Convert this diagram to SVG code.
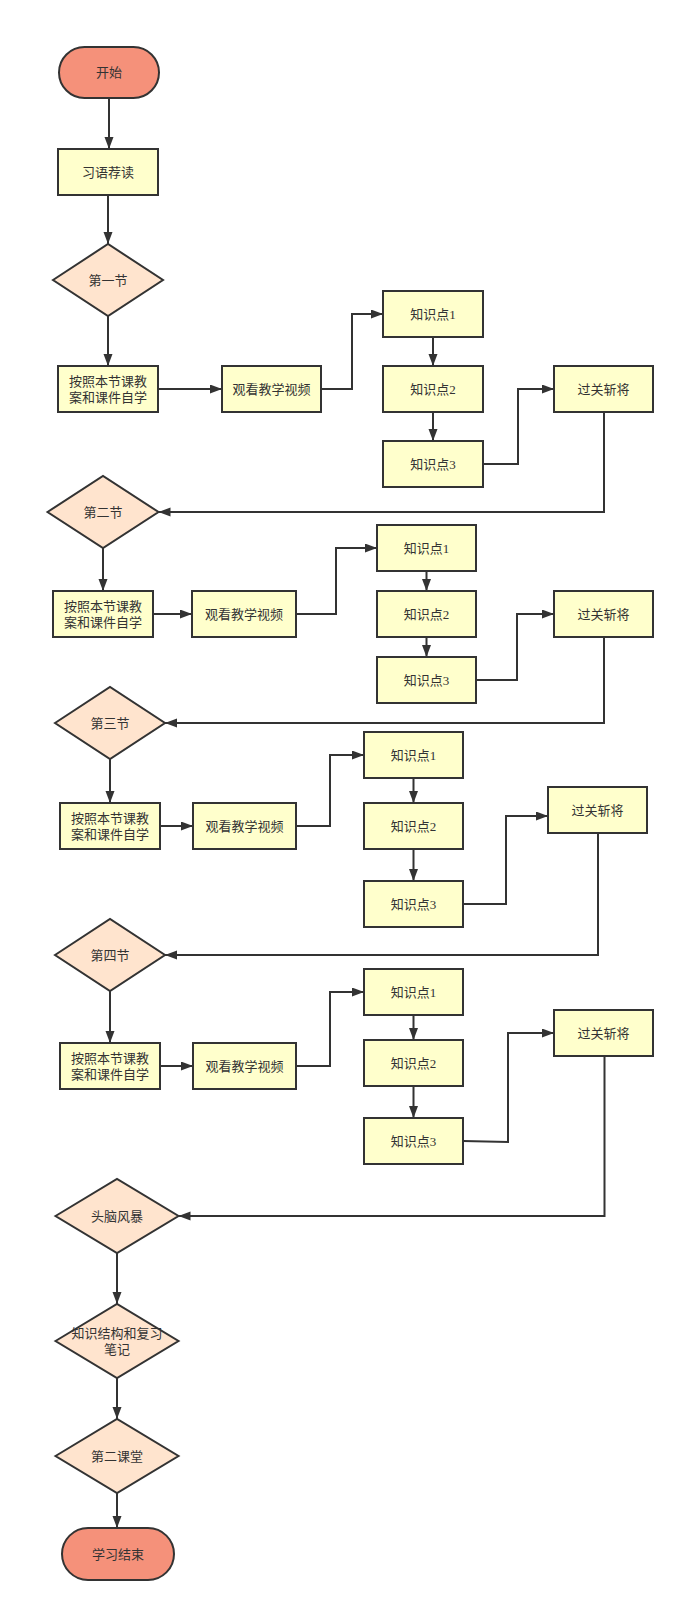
<svg xmlns="http://www.w3.org/2000/svg" width="685" height="1612" viewBox="0 0 685 1612">
<defs>
<style>
.term{fill:#F5917A;stroke:#333;stroke-width:2}
.box{fill:#FFFFCC;stroke:#333;stroke-width:2}
.dia{fill:#FFE4CE;stroke:#333;stroke-width:2}
.t{font-family:"Liberation Serif","Noto Sans CJK SC",sans-serif;font-size:13px;fill:#333;text-anchor:middle;dominant-baseline:central}
.c{fill:none;stroke:#333;stroke-width:2;marker-end:url(#arr)}
</style>
<marker id="arr" markerUnits="userSpaceOnUse" markerWidth="13" markerHeight="10" refX="12" refY="4.5" orient="auto">
<path d="M0,0 L12,4.5 L0,9 Z" fill="#333"/>
</marker>
</defs>
<rect width="685" height="1612" fill="#fff"/>

<g id="connectors">
<path class="c" d="M109,98 V149"/>
<path class="c" d="M108,195 V244"/>
<path class="c" d="M108,316 V366"/>
<path class="c" d="M158,389 H222"/>
<path class="c" d="M321,389 H352 V314 H383"/>
<path class="c" d="M433,337 V366"/>
<path class="c" d="M433,412 V441"/>
<path class="c" d="M483,464 H518 V389 H554"/>
<path class="c" d="M604,412 V512 H158.5"/>
<path class="c" d="M103,548 V591"/>
<path class="c" d="M153,614 H192"/>
<path class="c" d="M296,614 H336 V548 H377"/>
<path class="c" d="M426.5,571 V591"/>
<path class="c" d="M426.5,637 V657"/>
<path class="c" d="M476,680 H517 V614 H554"/>
<path class="c" d="M604,637 V723 H165"/>
<path class="c" d="M110,759 V803"/>
<path class="c" d="M160,826 H193"/>
<path class="c" d="M296,826 H330 V755 H364"/>
<path class="c" d="M413.5,778 V803"/>
<path class="c" d="M413.5,849 V881"/>
<path class="c" d="M463,904 H506 V816 H548"/>
<path class="c" d="M598,833 V955 H165"/>
<path class="c" d="M110,991 V1043"/>
<path class="c" d="M160,1066 H193"/>
<path class="c" d="M296,1066 H330 V992 H364"/>
<path class="c" d="M413.5,1015 V1040"/>
<path class="c" d="M413.5,1086 V1118"/>
<path class="c" d="M463,1141 L508,1142 V1033 H554"/>
<path class="c" d="M604.5,1056 V1216 H178.5"/>
<path class="c" d="M117,1253 V1304"/>
<path class="c" d="M117,1378 V1419"/>
<path class="c" d="M117,1493 V1528"/>
</g>

<g id="start"><rect class="term" x="59" y="47" width="100" height="51" rx="25.5"/><text class="t" x="109" y="72.5">开始</text></g>
<g id="xiyu"><rect class="box" x="58" y="149" width="100" height="46"/><text class="t" x="108" y="172">习语荐读</text></g>

<g id="d1"><polygon class="dia" points="53,280 108,244 163,280 108,316"/><text class="t" x="108" y="280">第一节</text></g>
<g id="a1"><rect class="box" x="58" y="366" width="100" height="46"/><text class="t" x="108" y="381">按照本节课教</text><text class="t" x="108" y="397">案和课件自学</text></g>
<g id="v1"><rect class="box" x="222" y="366" width="99" height="46"/><text class="t" x="271.5" y="389">观看教学视频</text></g>
<g id="k11"><rect class="box" x="383" y="291" width="100" height="46"/><text class="t" x="433" y="314">知识点1</text></g>
<g id="k12"><rect class="box" x="383" y="366" width="100" height="46"/><text class="t" x="433" y="389">知识点2</text></g>
<g id="k13"><rect class="box" x="383" y="441" width="100" height="46"/><text class="t" x="433" y="464">知识点3</text></g>
<g id="g1"><rect class="box" x="554" y="366" width="99" height="46"/><text class="t" x="603.5" y="389">过关斩将</text></g>

<g id="d2"><polygon class="dia" points="47.5,512 103,476 158.5,512 103,548"/><text class="t" x="103" y="512">第二节</text></g>
<g id="a2"><rect class="box" x="53" y="591" width="100" height="46"/><text class="t" x="103" y="606">按照本节课教</text><text class="t" x="103" y="622">案和课件自学</text></g>
<g id="v2"><rect class="box" x="192" y="591" width="104" height="46"/><text class="t" x="244" y="614">观看教学视频</text></g>
<g id="k21"><rect class="box" x="377" y="525" width="99" height="46"/><text class="t" x="426.5" y="548">知识点1</text></g>
<g id="k22"><rect class="box" x="377" y="591" width="99" height="46"/><text class="t" x="426.5" y="614">知识点2</text></g>
<g id="k23"><rect class="box" x="377" y="657" width="99" height="46"/><text class="t" x="426.5" y="680">知识点3</text></g>
<g id="g2"><rect class="box" x="554" y="591" width="99" height="46"/><text class="t" x="603.5" y="614">过关斩将</text></g>

<g id="d3"><polygon class="dia" points="55,723 110,687 165,723 110,759"/><text class="t" x="110" y="723">第三节</text></g>
<g id="a3"><rect class="box" x="60" y="803" width="100" height="46"/><text class="t" x="110" y="818">按照本节课教</text><text class="t" x="110" y="834">案和课件自学</text></g>
<g id="v3"><rect class="box" x="193" y="803" width="103" height="46"/><text class="t" x="244.5" y="826">观看教学视频</text></g>
<g id="k31"><rect class="box" x="364" y="732" width="99" height="46"/><text class="t" x="413.5" y="755">知识点1</text></g>
<g id="k32"><rect class="box" x="364" y="803" width="99" height="46"/><text class="t" x="413.5" y="826">知识点2</text></g>
<g id="k33"><rect class="box" x="364" y="881" width="99" height="46"/><text class="t" x="413.5" y="904">知识点3</text></g>
<g id="g3"><rect class="box" x="548" y="787" width="99" height="46"/><text class="t" x="597.5" y="810">过关斩将</text></g>

<g id="d4"><polygon class="dia" points="55,955 110,919 165,955 110,991"/><text class="t" x="110" y="955">第四节</text></g>
<g id="a4"><rect class="box" x="60" y="1043" width="100" height="46"/><text class="t" x="110" y="1058">按照本节课教</text><text class="t" x="110" y="1074">案和课件自学</text></g>
<g id="v4"><rect class="box" x="193" y="1043" width="103" height="46"/><text class="t" x="244.5" y="1066">观看教学视频</text></g>
<g id="k41"><rect class="box" x="364" y="969" width="99" height="46"/><text class="t" x="413.5" y="992">知识点1</text></g>
<g id="k42"><rect class="box" x="364" y="1040" width="99" height="46"/><text class="t" x="413.5" y="1063">知识点2</text></g>
<g id="k43"><rect class="box" x="364" y="1118" width="99" height="46"/><text class="t" x="413.5" y="1141">知识点3</text></g>
<g id="g4"><rect class="box" x="554" y="1010" width="99" height="46"/><text class="t" x="603.5" y="1033">过关斩将</text></g>

<g id="d5"><polygon class="dia" points="55.5,1216 117,1179 178.5,1216 117,1253"/><text class="t" x="117" y="1216">头脑风暴</text></g>
<g id="d6"><polygon class="dia" points="55.5,1341 117,1304 178.5,1341 117,1378"/><text class="t" x="117" y="1333">知识结构和复习</text><text class="t" x="117" y="1349">笔记</text></g>
<g id="d7"><polygon class="dia" points="55.5,1456 117,1419 178.5,1456 117,1493"/><text class="t" x="117" y="1456">第二课堂</text></g>
<g id="end"><rect class="term" x="62" y="1528" width="112" height="52" rx="26"/><text class="t" x="118" y="1554">学习结束</text></g>
</svg>
